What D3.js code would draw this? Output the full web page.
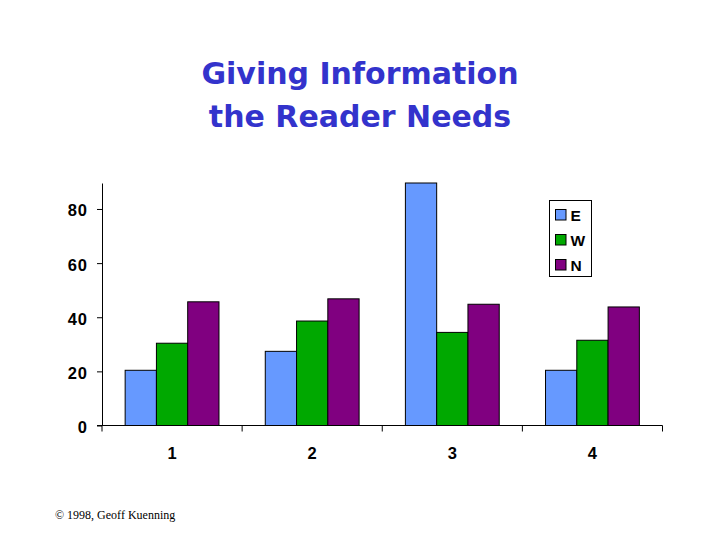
<!DOCTYPE html>
<html>
<head>
<meta charset="utf-8">
<script src="https://cdn.jsdelivr.net/npm/d3@7"></script>
<style>
  html, body { margin: 0; padding: 0; background: #fff; }
  svg { display: block; }
</style>
</head>
<body>
<svg id="chart" width="720" height="540"></svg>
<script>
// ---- data ----
const categories = ['1', '2', '3', '4'];
const seriesNames = ['E', 'W', 'N'];
const valuesE = [20.4, 27.4, 89.6, 20.4];
const valuesW = [30.4, 38.6, 34.4, 31.5];
const valuesN = [45.7, 46.8, 44.8, 43.8];
const yTicks = [0, 20, 40, 60, 80];
const seriesColors = ['#6699ff', '#00a800', '#800080'];

const seriesValues = [valuesE, valuesW, valuesN];
const rows = categories.map((c, i) => ({
    cat: c,
    vals: seriesNames.map((s, j) => ({ key: s, value: seriesValues[j][i] }))
}));

const svg = d3.select('#chart');
const labelFont = 'Arial, "Liberation Sans", sans-serif';

// plot area
const plotLeft = 102, plotRight = 662.5, plotTop = 183, plotBottom = 425.5;

const x0 = d3.scaleBand().domain(categories).range([plotLeft, plotRight]).padding(0);
const x1 = d3.scaleBand().domain(seriesNames).range([0, x0.bandwidth()])
    .paddingInner(0).paddingOuter(0.74);
const y = d3.scaleLinear().domain([0, 89.6]).range([plotBottom, plotTop]);
const color = d3.scaleOrdinal().domain(seriesNames).range(seriesColors);

// title
const title = svg.append('g')
    .attr('fill', '#3333cc')
    .attr('font-family', '"Comic Sans MS", "DejaVu Sans", sans-serif')
    .attr('font-weight', 'bold')
    .attr('font-size', 30)
    .attr('text-anchor', 'middle');
title.append('text').attr('x', 360).attr('y', 84).text('Giving Information');
title.append('text').attr('x', 360).attr('y', 127).text('the Reader Needs');

// bars
const groups = svg.append('g').selectAll('g')
    .data(rows)
    .join('g')
    .attr('transform', d => `translate(${x0(d.cat)},0)`);

groups.selectAll('rect')
    .data(d => d.vals)
    .join('rect')
    .attr('x', d => x1(d.key))
    .attr('y', d => y(d.value))
    .attr('width', x1.bandwidth())
    .attr('height', d => y(0) - y(d.value))
    .attr('fill', d => color(d.key))
    .attr('stroke', '#000')
    .attr('stroke-width', 1);

// y axis
const yAxis = svg.append('g')
    .attr('transform', `translate(${plotLeft},0)`)
    .call(d3.axisLeft(y).tickValues(yTicks).tickSize(5).tickPadding(9).tickSizeOuter(0));
yAxis.select('.domain').attr('stroke', '#000');
yAxis.selectAll('text')
    .attr('font-family', labelFont)
    .attr('font-weight', 'bold')
    .attr('font-size', 16.5)
    .attr('letter-spacing', 1)
    .attr('dy', '0.42em')
    .attr('fill', '#000');

// x axis: ticks sit on the category boundaries
const xAxis = svg.append('g')
    .attr('transform', `translate(0,${plotBottom})`);
xAxis.append('line')
    .attr('x1', plotLeft - 5).attr('x2', plotRight)
    .attr('stroke', '#000');
const boundaries = categories.map(c => x0(c)).concat([x0(categories[categories.length - 1]) + x0.bandwidth()]);
xAxis.selectAll('line.tick')
    .data(boundaries)
    .join('line')
    .attr('class', 'tick')
    .attr('x1', d => d).attr('x2', d => d)
    .attr('y1', 0).attr('y2', 6)
    .attr('stroke', '#000');
xAxis.selectAll('text')
    .data(categories)
    .join('text')
    .attr('x', d => x0(d) + x0.bandwidth() / 2)
    .attr('y', 33)
    .attr('text-anchor', 'middle')
    .attr('font-family', labelFont)
    .attr('font-weight', 'bold')
    .attr('font-size', 16.5)
    .text(d => d);

// legend
const legend = svg.append('g').attr('transform', 'translate(549.5,200.5)');
legend.append('rect')
    .attr('width', 42).attr('height', 76)
    .attr('fill', '#fff').attr('stroke', '#000');
const items = legend.selectAll('g.item')
    .data(seriesNames)
    .join('g')
    .attr('class', 'item')
    .attr('transform', (d, i) => `translate(6,${9 + i * 25})`);
items.append('rect')
    .attr('width', 10.5).attr('height', 10.5)
    .attr('fill', d => color(d))
    .attr('stroke', '#000');
items.append('text')
    .attr('x', 15).attr('y', 11)
    .attr('font-family', labelFont)
    .attr('font-weight', 'bold')
    .attr('font-size', 15.5)
    .text(d => d);

// footer
svg.append('text')
    .attr('x', 55).attr('y', 519)
    .attr('font-family', '"Times New Roman", "Liberation Serif", serif')
    .attr('font-size', 12)
    .text('\u00a9 1998, Geoff Kuenning');
</script>
</body>
</html>
